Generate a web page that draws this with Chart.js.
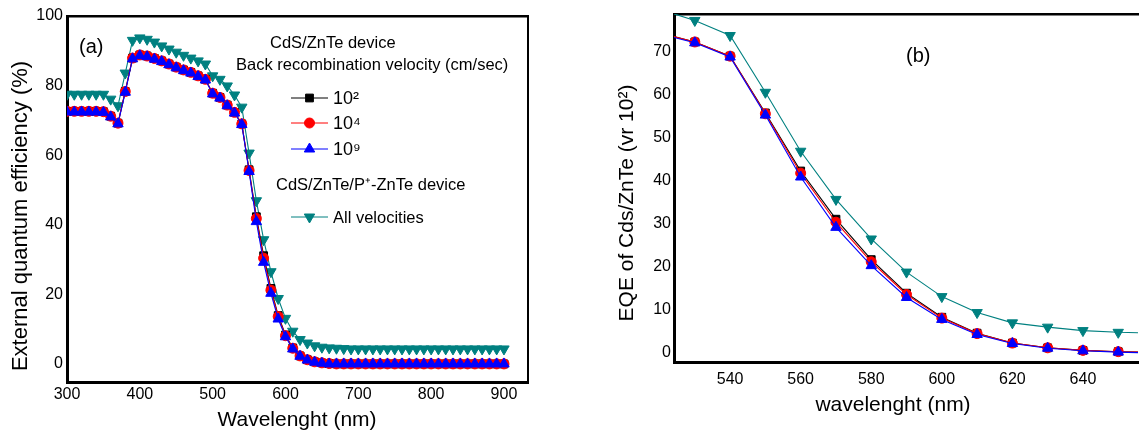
<!DOCTYPE html>
<html>
<head>
<meta charset="utf-8">
<script src="https://cdn.jsdelivr.net/npm/chart.js@4.4.1/dist/chart.umd.min.js"></script>
<style>
  html, body { margin: 0; padding: 0; background: #fff; }
  #wrapA { position: absolute; left: 0; top: 0; width: 560px; height: 434px; }
  #wrapB { position: absolute; left: 560px; top: 0; width: 585px; height: 434px; }
</style>
</head>
<body>
<div id="wrapA"><canvas id="chartA" width="560" height="434"></canvas></div>
<div id="wrapB"><canvas id="chartB" width="585" height="434"></canvas></div>
<script>
// wavelength (nm)
const wavelength = [300,310,320,330,340,350,360,370,380,390,400,410,420,430,440,450,460,470,480,490,
  500,510,520,530,540,550,560,570,580,590,600,610,620,630,640,650,660,670,680,690,
  700,710,720,730,740,750,760,770,780,790,800,810,820,830,840,850,860,870,880,890,900];

// CdS/ZnTe device, back recombination velocity 10^2 cm/sec
const eqe1e2 = [72.6,72.6,72.6,72.6,72.6,72.5,71.2,69.2,78.3,87.9,88.8,88.5,87.8,87.1,86.2,85.3,84.5,83.8,82.8,81.8,
  77.8,76.6,74.4,72.3,69.0,55.8,42.3,31.1,21.7,13.9,8.3,4.6,2.3,1.2,0.6,0.3,0.1,0.0,0.0,0.0,
  0.0,0.0,0.0,0.0,0.0,0.0,0.0,0.0,0.0,0.0,0.0,0.0,0.0,0.0,0.0,0.0,0.0,0.0,0.0,0.0,0.0];
// 10^4 cm/sec
const eqe1e4 = [72.6,72.6,72.6,72.6,72.6,72.5,71.2,69.2,78.3,87.9,88.8,88.5,87.8,87.1,86.2,85.3,84.5,83.8,82.8,81.8,
  77.8,76.6,74.4,72.3,69.0,55.6,41.8,30.4,21.2,13.6,8.1,4.5,2.3,1.2,0.6,0.3,0.1,0.0,0.0,0.0,
  0.0,0.0,0.0,0.0,0.0,0.0,0.0,0.0,0.0,0.0,0.0,0.0,0.0,0.0,0.0,0.0,0.0,0.0,0.0,0.0,0.0];
// 10^9 cm/sec
const eqe1e9 = [72.4,72.4,72.4,72.4,72.4,72.3,71.0,69.0,78.1,87.7,88.6,88.3,87.6,86.9,86.0,85.1,84.3,83.6,82.6,81.6,
  77.6,76.4,74.2,72.1,68.8,55.3,40.9,29.2,20.3,12.9,7.8,4.3,2.2,1.1,0.5,0.2,0.0,0.0,0.0,0.0,
  0.0,0.0,0.0,0.0,0.0,0.0,0.0,0.0,0.0,0.0,0.0,0.0,0.0,0.0,0.0,0.0,0.0,0.0,0.0,0.0,0.0];
// CdS/ZnTe/P+-ZnTe device, all velocities
const eqePplus = [77.5,77.5,77.5,77.5,77.5,77.5,76.1,74.2,83.6,93.0,93.7,93.3,92.5,91.4,90.5,89.6,88.7,87.9,87.1,86.2,
  82.8,81.8,79.9,77.3,73.8,60.6,46.9,35.7,26.5,18.8,13.1,9.4,7.0,6.0,5.2,4.8,4.6,4.5,4.4,4.3,
  4.3,4.3,4.3,4.3,4.3,4.3,4.3,4.3,4.3,4.3,4.3,4.3,4.3,4.3,4.3,4.3,4.3,4.3,4.3,4.3,4.3];

const xTicksA = [300, 400, 500, 600, 700, 800, 900];
const yTicksA = [0, 20, 40, 60, 80, 100];
const xTicksB = [540, 560, 580, 600, 620, 640];
const yTicksB = [0, 10, 20, 30, 40, 50, 60, 70];

const FONT = '"Liberation Sans", Arial, sans-serif';
Chart.defaults.font.family = FONT;
Chart.defaults.color = '#000';

function series(label, values, color, style, radius, rotation, order) {
  return {
    label: label,
    data: wavelength.map((w, i) => ({ x: w, y: values[i] })),
    borderColor: color,
    backgroundColor: color,
    borderWidth: 1.1,
    pointStyle: style,
    pointRadius: radius,
    pointRotation: rotation,
    pointBorderWidth: 1,
    pointHoverRadius: radius,
    order: order
  };
}

function makeDatasets() {
  return [
    series('10²', eqe1e2, '#000000', 'rect', 5.5, 0, 2),
    series('10⁴', eqe1e4, '#ff0000', 'circle', 5, 0, 1),
    series('10⁹', eqe1e9, '#0000ff', 'triangle', 6, 0, 0),
    series('All velocities', eqePplus, '#008080', 'triangle', 6, 180, 3)
  ];
}

// free text and legend samples drawn on top of the chart
const panelText = {
  id: 'panelText',
  afterDraw(chart, args, opts) {
    const ctx = chart.ctx;
    (opts.items || []).forEach(t => {
      ctx.save();
      ctx.font = t.size + 'px ' + FONT;
      ctx.fillStyle = '#000';
      ctx.textAlign = t.align || 'left';
      ctx.textBaseline = 'middle';
      ctx.translate(t.x, t.y);
      if (t.rotate) ctx.rotate(t.rotate);
      ctx.fillText(t.text, 0, 0);
      ctx.restore();
    });
    (opts.samples || []).forEach(s => {
      const ds = chart.data.datasets[s.index];
      ctx.save();
      ctx.strokeStyle = ds.borderColor;
      ctx.fillStyle = ds.backgroundColor;
      ctx.lineWidth = 1;
      ctx.beginPath();
      ctx.moveTo(s.x0, s.y);
      ctx.lineTo(s.x1, s.y);
      ctx.stroke();
      Chart.helpers.drawPoint(ctx, {
        pointStyle: ds.pointStyle, radius: ds.pointRadius,
        rotation: ds.pointRotation, borderWidth: 1
      }, (s.x0 + s.x1) / 2, s.y);
      ctx.restore();
      ctx.save();
      ctx.font = s.size + 'px ' + FONT;
      ctx.fillStyle = '#000';
      ctx.textBaseline = 'middle';
      ctx.fillText(ds.label, s.x1 + 5, s.y + 1);
      ctx.restore();
    });
  }
};

function axes(xMin, xMax, yMin, yMax, xTicks, yTicks, yWidth, xHeight, xPad, yPad) {
  return {
    x: {
      type: 'linear', min: xMin, max: xMax,
      afterBuildTicks: s => { s.ticks = xTicks.map(v => ({ value: v })); },
      afterFit: s => { s.height = xHeight; },
      grid: { display: false, drawTicks: false },
      border: { color: '#000', width: 3 },
      ticks: { padding: xPad, font: { size: 16 }, color: '#000' }
    },
    xTop: {
      type: 'linear', position: 'top', axis: 'x', min: xMin, max: xMax,
      afterFit: s => { s.height = 0; },
      grid: { display: false, drawTicks: false },
      border: { color: '#000', width: 2.5 },
      ticks: { display: false }
    },
    y: {
      type: 'linear', min: yMin, max: yMax,
      afterBuildTicks: s => { s.ticks = yTicks.map(v => ({ value: v })); },
      afterFit: s => { s.width = yWidth; },
      grid: { display: false, drawTicks: false },
      border: { color: '#000', width: 3 },
      ticks: { padding: yPad, font: { size: 16 }, color: '#000' }
    }
  };
}

const scalesA = axes(300, 933, -5.2, 100, xTicksA, yTicksA, 67, 52, 3, 4);
scalesA.yRight = {
  type: 'linear', position: 'right', axis: 'y', min: -5.2, max: 100,
  afterFit: s => { s.width = 0; },
  grid: { display: false, drawTicks: false },
  border: { color: '#000', width: 2 },
  ticks: { display: false }
};

new Chart(document.getElementById('chartA'), {
  type: 'line',
  data: { datasets: makeDatasets() },
  options: {
    responsive: false,
    animation: false,
    layout: { padding: { top: 16, right: 32, left: 0, bottom: 0 } },
    scales: scalesA,
    plugins: {
      legend: { display: false },
      tooltip: { enabled: false },
      panelText: {
        items: [
          { text: '(a)', x: 79, y: 47, size: 20 },
          { text: 'CdS/ZnTe device', x: 270, y: 43, size: 16.5 },
          { text: 'Back recombination velocity (cm/sec)', x: 236, y: 65, size: 16.5 },
          { text: 'CdS/ZnTe/P⁺-ZnTe device', x: 276, y: 185, size: 16.5 },
          { text: 'External quantum efficiency (%)', x: 21, y: 216, size: 22, align: 'center', rotate: -Math.PI / 2 },
          { text: 'Wavelenght (nm)', x: 297, y: 420, size: 21, align: 'center' }
        ],
        samples: [
          { index: 0, x0: 291, x1: 328, y: 98, size: 18 },
          { index: 1, x0: 291, x1: 328, y: 123, size: 18 },
          { index: 2, x0: 291, x1: 328, y: 149, size: 18 },
          { index: 3, x0: 291, x1: 328, y: 217, size: 16.5 }
        ]
      }
    }
  },
  plugins: [panelText]
});

new Chart(document.getElementById('chartB'), {
  type: 'line',
  data: { datasets: makeDatasets() },
  options: {
    responsive: false,
    animation: false,
    layout: { padding: { top: 14, right: 0, left: 0, bottom: 0 } },
    scales: axes(524.1, 655.6, -2.1, 78.8, xTicksB, yTicksB, 114, 72, 8, 3),
    plugins: {
      legend: { display: false },
      tooltip: { enabled: false },
      panelText: {
        items: [
          { text: '(b)', x: 346, y: 56, size: 20 },
          { text: 'EQE of Cds/ZnTe (vr 10²)', x: 67, y: 203, size: 21, align: 'center', rotate: -Math.PI / 2 },
          { text: 'wavelenght (nm)', x: 333, y: 405, size: 21, align: 'center' }
        ]
      }
    }
  },
  plugins: [panelText]
});
</script>
</body>
</html>
